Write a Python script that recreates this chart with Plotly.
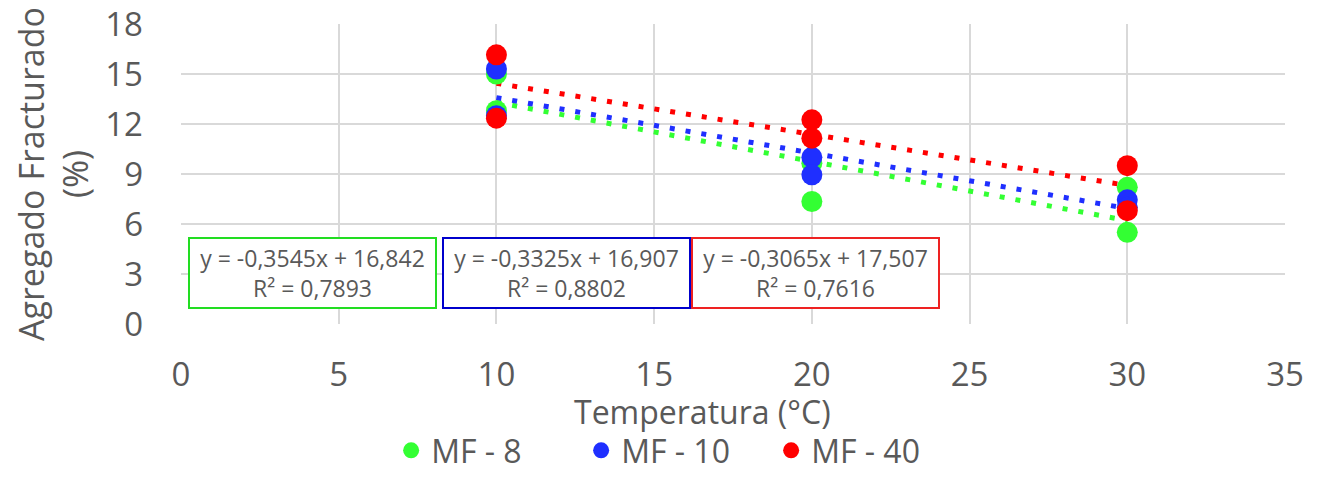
import plotly.graph_objects as go

# Data
temps_mf8 = [10, 10, 20, 20, 30, 30]
vals_mf8 = [15.0, 12.8, 9.65, 7.35, 8.2, 5.5]
temps_mf10 = [10, 10, 20, 20, 30, 30]
vals_mf10 = [15.3, 12.5, 10.0, 8.95, 7.45, 7.0]
temps_mf40 = [10, 10, 20, 20, 30, 30]
vals_mf40 = [16.15, 12.35, 12.25, 11.15, 9.5, 6.8]

series_names = ["MF - 8", "MF - 10", "MF - 40"]
slopes = [-0.3545, -0.3325, -0.3065]
intercepts = [16.842, 16.907, 17.507]
r2 = ["0,7893", "0,8802", "0,7616"]
colors = ["#33ff33", "#1f2fff", "#ff0000"]
box_colors = ["#22dd22", "#0000cc", "#ee2222"]
x_title = "Temperatura (°C)"
y_title = "Agregado Fracturado<br>(%)"

FONT = "Open Sans, Lato, sans-serif"
GREY = "#595959"

fig = go.Figure()
xs_all = [temps_mf8, temps_mf10, temps_mf40]
ys_all = [vals_mf8, vals_mf10, vals_mf40]

# trendlines
for i in range(3):
    x0, x1 = min(xs_all[i]), max(xs_all[i])
    fig.add_trace(go.Scatter(
        x=[x0, x1], y=[slopes[i] * x0 + intercepts[i], slopes[i] * x1 + intercepts[i]],
        mode="lines", line=dict(color=colors[i], width=5, dash="5px,11px"),
        showlegend=False, hoverinfo="skip"))

for i in range(3):
    fig.add_trace(go.Scatter(
        x=xs_all[i], y=ys_all[i], mode="markers", name=series_names[i],
        marker=dict(color=colors[i], size=21, line=dict(width=0))))

def fmt(v):
    return f"{v:.4f}".replace(".", ",") if abs(v) < 1 else f"{v:.3f}".replace(".", ",")

box_x = [0.22, 8.28, 16.17]
for i in range(3):
    txt = f"y = {fmt(slopes[i])}x + {fmt(intercepts[i])}<br>R² = {r2[i]}"
    fig.add_annotation(
        x=box_x[i], y=5.22, xref="x", yref="y", xanchor="left", yanchor="top",
        text=txt, showarrow=False, align="center",
        font=dict(family=FONT, size=23, color=GREY),
        bordercolor=box_colors[i], borderwidth=2, borderpad=4, bgcolor="white",
        width=237, height=60)

# x-axis title
fig.add_annotation(
    x=0.472, y=-0.293, xref="paper", yref="paper", xanchor="center", yanchor="middle",
    text=x_title, showarrow=False, font=dict(family=FONT, size=32, color=GREY))

fig.update_layout(
    width=1318, height=478,
    margin=dict(l=181, r=33, t=24, b=154),
    paper_bgcolor="white", plot_bgcolor="white",
    font=dict(family=FONT, color=GREY),
    legend=dict(orientation="h", x=0.513, xanchor="center", xref="container",
                y=0.0, yanchor="bottom", yref="container",
                font=dict(size=32, color=GREY), itemsizing="trace",
                entrywidth=145, entrywidthmode="pixels"),
    xaxis=dict(range=[0, 35], dtick=5, showgrid=True, gridcolor="#d9d9d9", gridwidth=2,
               zeroline=False, tickfont=dict(size=33, color=GREY), ticks="",
               ticklabelstandoff=28, automargin=False, ticklabeloverflow="allow",
               showline=False),
    yaxis=dict(range=[0, 18], dtick=3, showgrid=True, gridcolor="#d9d9d9", gridwidth=2,
               zeroline=False, tickfont=dict(size=33, color=GREY), ticks="",
               ticklabelstandoff=37, automargin=False, ticklabeloverflow="allow",
               title=dict(text=y_title, font=dict(size=34, color=GREY), standoff=6),
               showline=False),
)

fig.write_html("out.html", config={"displayModeBar": False},
               post_script="document.body.style.margin='0';")
